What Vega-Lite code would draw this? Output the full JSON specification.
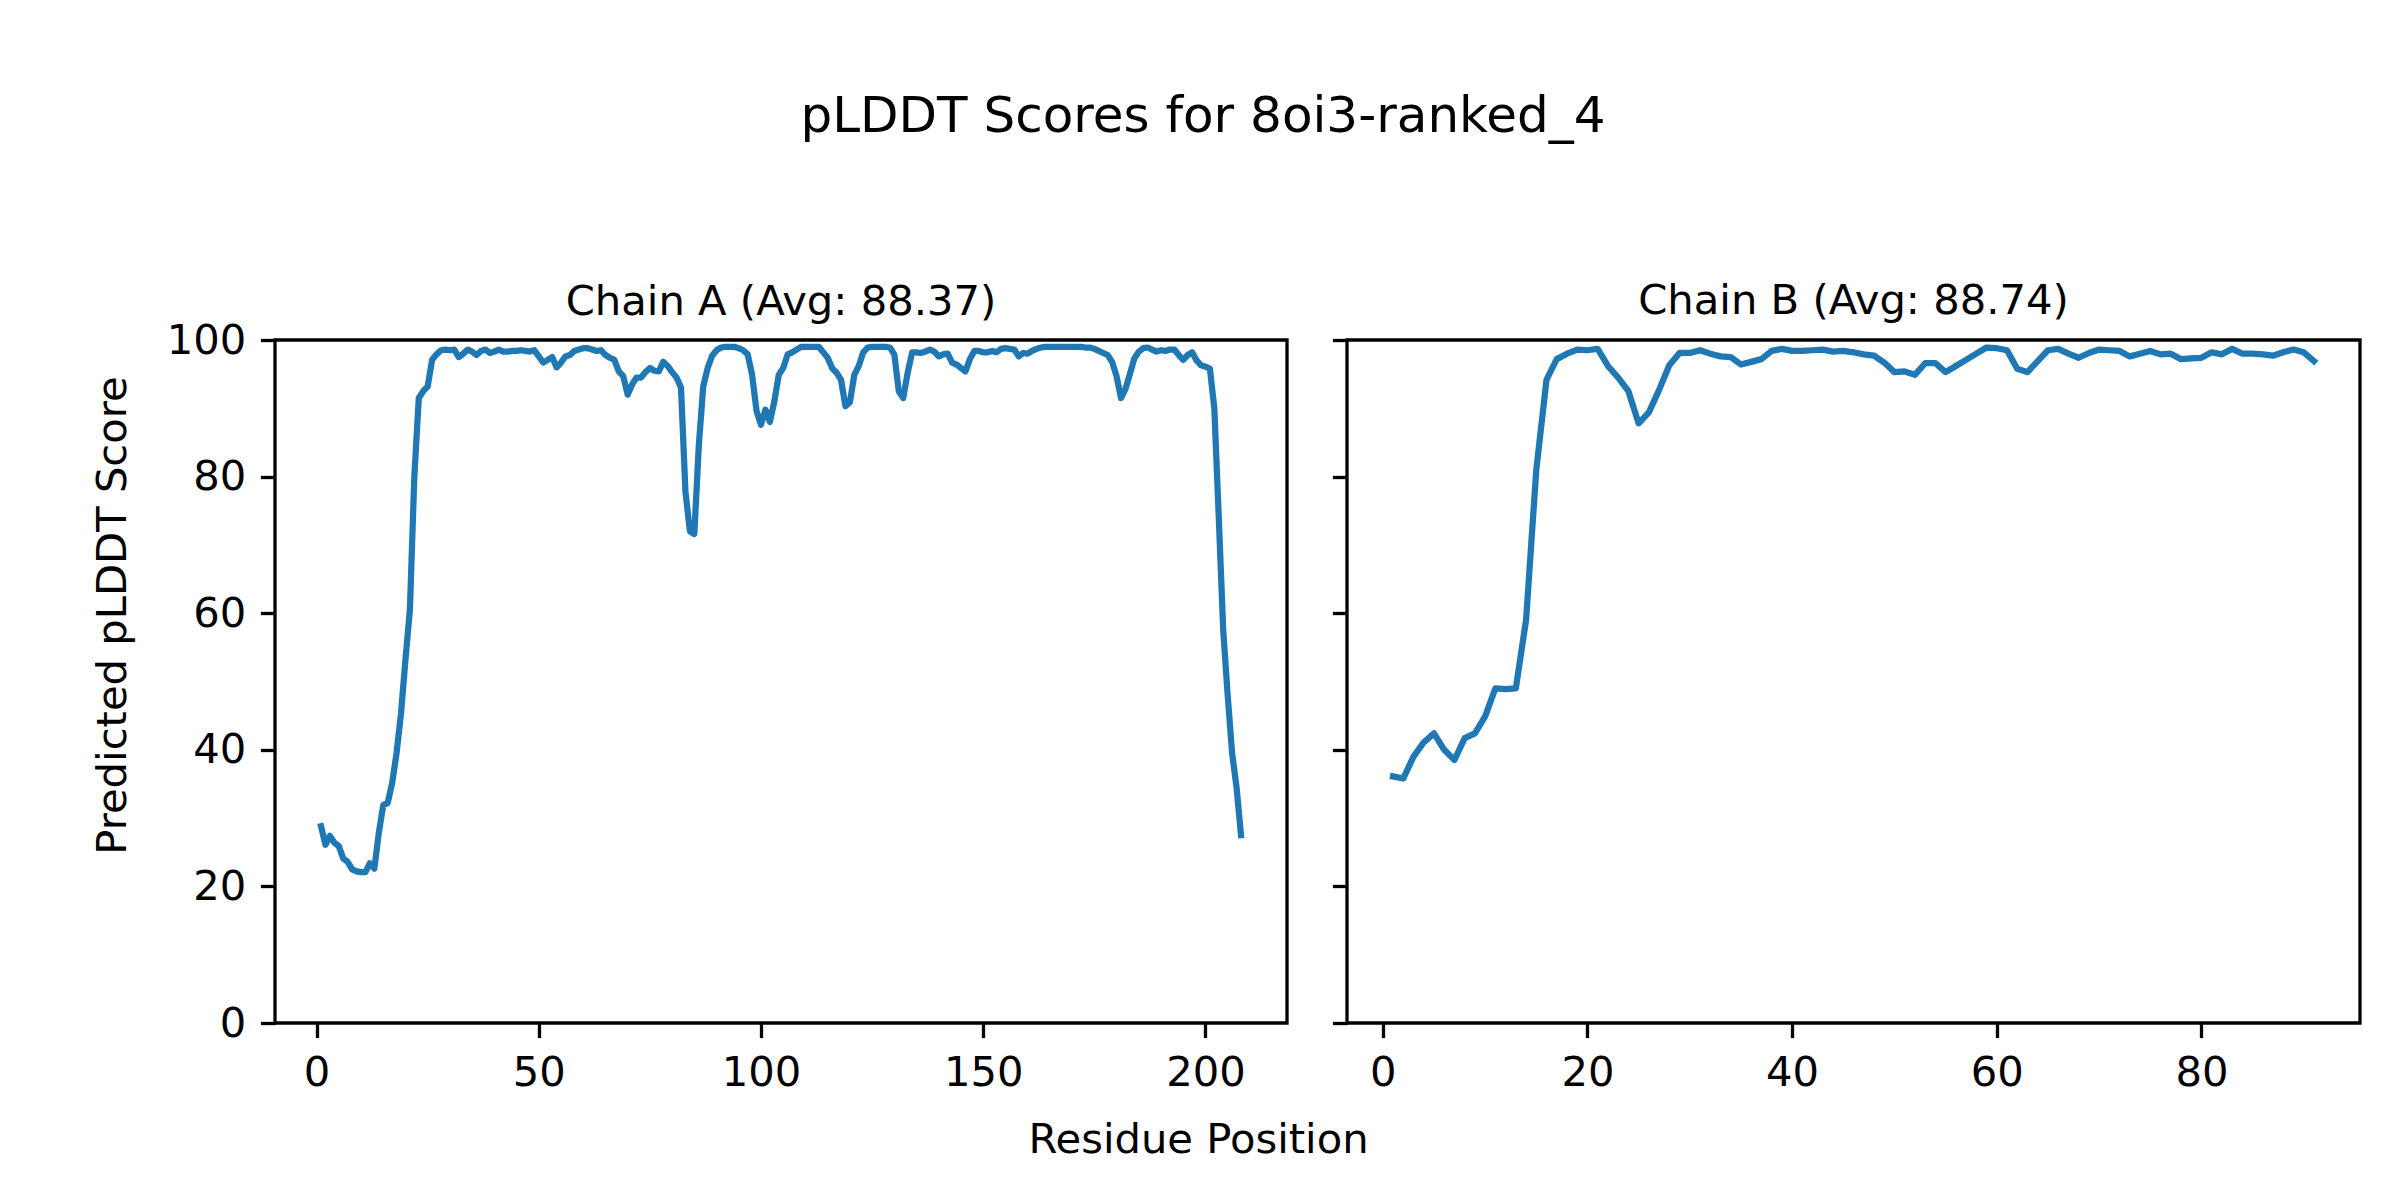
{
  "$schema": "https://vega.github.io/schema/vega-lite/v6.json",
  "background": "white",
  "autosize": {"type": "pad"},
  "padding": {"left": 90, "top": 92, "right": 41, "bottom": 40},
  "bounds": "flush",
  "spacing": 60,
  "title": {"text": "pLDDT Scores for 8oi3-ranked_4", "fontSize": 50, "font": "DejaVu Sans", "fontWeight": "normal", "color": "black", "anchor": "middle", "baseline": "alphabetic", "offset": 97, "dx": -23},
  "config": {
    "font": "DejaVu Sans",
    "view": {"stroke": "black", "strokeWidth": 3.3},
    "axis": {"domain": false, "grid": false, "ticks": true, "tickColor": "black", "tickWidth": 3.3, "tickSize": 14.6, "labelFont": "DejaVu Sans", "labelFontSize": 41.7, "labelColor": "black", "labelPadding": 14.6, "titleFont": "DejaVu Sans", "titleFontSize": 41.7, "titleFontWeight": "normal", "titleColor": "black", "labelFlush": false, "labelOverlap": false},
    "title": {"font": "DejaVu Sans", "fontWeight": "normal", "color": "black"}
  },
  "datasets": {
    "A": [
      {"r":1,"v":28.8},{"r":2,"v":26.1},{"r":3,"v":27.4},{"r":4,"v":26.4},{"r":5,"v":25.9},{"r":6,"v":24.1},{"r":7,"v":23.6},{"r":8,"v":22.5},{"r":9,"v":22.2},{"r":10,"v":22.1},
      {"r":11,"v":22.1},{"r":12,"v":23.4},{"r":13,"v":22.6},{"r":14,"v":27.8},{"r":15,"v":31.9},{"r":16,"v":32.2},{"r":17,"v":35.1},{"r":18,"v":39.5},{"r":19,"v":45.3},{"r":20,"v":53.2},
      {"r":21,"v":60.5},{"r":22,"v":80.0},{"r":23,"v":91.5},{"r":24,"v":92.5},{"r":25,"v":93.2},{"r":26,"v":97.1},{"r":27,"v":97.9},{"r":28,"v":98.5},{"r":29,"v":98.6},{"r":30,"v":98.5},
      {"r":31,"v":98.6},{"r":32,"v":97.5},{"r":33,"v":98.0},{"r":34,"v":98.6},{"r":35,"v":98.3},{"r":36,"v":97.8},{"r":37,"v":98.4},{"r":38,"v":98.6},{"r":39,"v":98.1},{"r":40,"v":98.3},
      {"r":41,"v":98.6},{"r":42,"v":98.3},{"r":43,"v":98.3},{"r":44,"v":98.4},{"r":45,"v":98.4},{"r":46,"v":98.5},{"r":47,"v":98.4},{"r":48,"v":98.3},{"r":49,"v":98.5},{"r":50,"v":97.6},
      {"r":51,"v":96.7},{"r":52,"v":97.1},{"r":53,"v":97.5},{"r":54,"v":96.0},{"r":55,"v":96.7},{"r":56,"v":97.6},{"r":57,"v":97.8},{"r":58,"v":98.4},{"r":59,"v":98.6},{"r":60,"v":98.8},
      {"r":61,"v":98.8},{"r":62,"v":98.6},{"r":63,"v":98.4},{"r":64,"v":98.5},{"r":65,"v":97.8},{"r":66,"v":97.4},{"r":67,"v":97.1},{"r":68,"v":95.4},{"r":69,"v":94.7},{"r":70,"v":92.0},
      {"r":71,"v":93.5},{"r":72,"v":94.5},{"r":73,"v":94.5},{"r":74,"v":95.3},{"r":75,"v":95.9},{"r":76,"v":95.5},{"r":77,"v":95.4},{"r":78,"v":96.8},{"r":79,"v":96.2},{"r":80,"v":95.3},
      {"r":81,"v":94.5},{"r":82,"v":93.0},{"r":83,"v":77.8},{"r":84,"v":72.0},{"r":85,"v":71.6},{"r":86,"v":84.5},{"r":87,"v":93.2},{"r":88,"v":95.9},{"r":89,"v":97.7},{"r":90,"v":98.5},
      {"r":91,"v":98.9},{"r":92,"v":99.0},{"r":93,"v":99.0},{"r":94,"v":99.0},{"r":95,"v":98.8},{"r":96,"v":98.5},{"r":97,"v":97.9},{"r":98,"v":94.9},{"r":99,"v":89.6},{"r":100,"v":87.6},
      {"r":101,"v":89.8},{"r":102,"v":88.0},{"r":103,"v":91.0},{"r":104,"v":94.9},{"r":105,"v":95.9},{"r":106,"v":97.9},{"r":107,"v":98.2},{"r":108,"v":98.6},{"r":109,"v":99.0},{"r":110,"v":99.0},
      {"r":111,"v":99.0},{"r":112,"v":99.0},{"r":113,"v":99.0},{"r":114,"v":98.2},{"r":115,"v":97.4},{"r":116,"v":95.9},{"r":117,"v":95.2},{"r":118,"v":94.2},{"r":119,"v":90.3},{"r":120,"v":90.9},
      {"r":121,"v":94.9},{"r":122,"v":96.2},{"r":123,"v":98.2},{"r":124,"v":98.9},{"r":125,"v":99.0},{"r":126,"v":99.0},{"r":127,"v":99.0},{"r":128,"v":99.0},{"r":129,"v":98.9},{"r":130,"v":97.9},
      {"r":131,"v":92.5},{"r":132,"v":91.5},{"r":133,"v":95.2},{"r":134,"v":98.2},{"r":135,"v":98.2},{"r":136,"v":98.1},{"r":137,"v":98.3},{"r":138,"v":98.6},{"r":139,"v":98.3},{"r":140,"v":97.6},
      {"r":141,"v":97.9},{"r":142,"v":98.0},{"r":143,"v":96.7},{"r":144,"v":96.4},{"r":145,"v":95.9},{"r":146,"v":95.4},{"r":147,"v":97.2},{"r":148,"v":98.4},{"r":149,"v":98.4},{"r":150,"v":98.2},
      {"r":151,"v":98.2},{"r":152,"v":98.4},{"r":153,"v":98.2},{"r":154,"v":98.7},{"r":155,"v":98.8},{"r":156,"v":98.7},{"r":157,"v":98.6},{"r":158,"v":97.6},{"r":159,"v":98.1},{"r":160,"v":98.0},
      {"r":161,"v":98.4},{"r":162,"v":98.7},{"r":163,"v":98.9},{"r":164,"v":99.0},{"r":165,"v":99.0},{"r":166,"v":99.0},{"r":167,"v":99.0},{"r":168,"v":99.0},{"r":169,"v":99.0},{"r":170,"v":99.0},
      {"r":171,"v":99.0},{"r":172,"v":99.0},{"r":173,"v":98.9},{"r":174,"v":98.9},{"r":175,"v":98.7},{"r":176,"v":98.4},{"r":177,"v":98.1},{"r":178,"v":97.8},{"r":179,"v":96.8},{"r":180,"v":94.7},
      {"r":181,"v":91.5},{"r":182,"v":92.8},{"r":183,"v":95.0},{"r":184,"v":97.3},{"r":185,"v":98.3},{"r":186,"v":98.8},{"r":187,"v":98.9},{"r":188,"v":98.6},{"r":189,"v":98.3},{"r":190,"v":98.5},
      {"r":191,"v":98.4},{"r":192,"v":98.6},{"r":193,"v":98.6},{"r":194,"v":97.8},{"r":195,"v":97.1},{"r":196,"v":97.8},{"r":197,"v":98.2},{"r":198,"v":97.0},{"r":199,"v":96.3},{"r":200,"v":96.1},
      {"r":201,"v":95.8},{"r":202,"v":90.0},{"r":203,"v":74.0},{"r":204,"v":57.5},{"r":205,"v":48.0},{"r":206,"v":39.5},{"r":207,"v":34.5},{"r":208,"v":27.5}
    ],
    "B": [
      {"r":1,"v":36.1},{"r":2,"v":35.8},{"r":3,"v":39.0},{"r":4,"v":41.1},{"r":5,"v":42.4},{"r":6,"v":40.0},{"r":7,"v":38.5},{"r":8,"v":41.7},{"r":9,"v":42.4},{"r":10,"v":44.9},
      {"r":11,"v":49.0},{"r":12,"v":48.9},{"r":13,"v":49.0},{"r":14,"v":59.0},{"r":15,"v":81.0},{"r":16,"v":94.2},{"r":17,"v":97.2},{"r":18,"v":98.0},{"r":19,"v":98.6},{"r":20,"v":98.5},
      {"r":21,"v":98.7},{"r":22,"v":96.2},{"r":23,"v":94.5},{"r":24,"v":92.5},{"r":25,"v":87.8},{"r":26,"v":89.4},{"r":27,"v":92.7},{"r":28,"v":96.3},{"r":29,"v":98.1},{"r":30,"v":98.1},
      {"r":31,"v":98.5},{"r":32,"v":98.0},{"r":33,"v":97.6},{"r":34,"v":97.5},{"r":35,"v":96.4},{"r":36,"v":96.8},{"r":37,"v":97.2},{"r":38,"v":98.4},{"r":39,"v":98.7},{"r":40,"v":98.4},
      {"r":41,"v":98.4},{"r":42,"v":98.5},{"r":43,"v":98.6},{"r":44,"v":98.3},{"r":45,"v":98.4},{"r":46,"v":98.2},{"r":47,"v":97.9},{"r":48,"v":97.7},{"r":49,"v":96.7},{"r":50,"v":95.3},
      {"r":51,"v":95.4},{"r":52,"v":94.9},{"r":53,"v":96.6},{"r":54,"v":96.6},{"r":55,"v":95.3},{"r":56,"v":96.2},{"r":57,"v":97.1},{"r":58,"v":98.0},{"r":59,"v":98.9},{"r":60,"v":98.8},
      {"r":61,"v":98.5},{"r":62,"v":95.8},{"r":63,"v":95.3},{"r":64,"v":96.9},{"r":65,"v":98.5},{"r":66,"v":98.7},{"r":67,"v":98.0},{"r":68,"v":97.4},{"r":69,"v":98.1},{"r":70,"v":98.6},
      {"r":71,"v":98.5},{"r":72,"v":98.4},{"r":73,"v":97.6},{"r":74,"v":98.0},{"r":75,"v":98.4},{"r":76,"v":97.9},{"r":77,"v":98.0},{"r":78,"v":97.2},{"r":79,"v":97.3},{"r":80,"v":97.4},
      {"r":81,"v":98.2},{"r":82,"v":97.9},{"r":83,"v":98.7},{"r":84,"v":98.0},{"r":85,"v":98.0},{"r":86,"v":97.9},{"r":87,"v":97.7},{"r":88,"v":98.2},{"r":89,"v":98.6},{"r":90,"v":98.2},
      {"r":91,"v":96.9}
    ]
  },
  "hconcat": [
    {
      "data": {"name": "A"},
      "width": 1012,
      "height": 683,
      "title": {"text": "Chain A (Avg: 88.37)", "fontSize": 41.7, "baseline": "alphabetic", "offset": -37},
      "mark": {"type": "line", "color": "#1f77b4", "strokeWidth": 6.25, "strokeCap": "square", "strokeJoin": "round"},
      "encoding": {
        "x": {"field": "r", "type": "quantitative", "scale": {"domain": [-9.35, 218.35], "nice": false, "zero": false},
              "axis": {"values": [0, 50, 100, 150, 200], "title": "Residue Position", "titleX": 923, "titleY": 129, "titleAlign": "center", "titleBaseline": "alphabetic"}},
        "y": {"field": "v", "type": "quantitative", "scale": {"domain": [0, 100], "nice": false, "zero": false},
              "axis": {"values": [0, 20, 40, 60, 80, 100], "title": "Predicted pLDDT Score", "titleX": -150, "titleY": 275, "titleAlign": "center", "titleBaseline": "alphabetic", "titleAngle": -90}}
      }
    },
    {
      "data": {"name": "B"},
      "width": 1013,
      "height": 683,
      "title": {"text": "Chain B (Avg: 88.74)", "fontSize": 41.7, "baseline": "alphabetic", "offset": -17},
      "mark": {"type": "line", "color": "#1f77b4", "strokeWidth": 6.25, "strokeCap": "square", "strokeJoin": "round"},
      "encoding": {
        "x": {"field": "r", "type": "quantitative", "scale": {"domain": [-3.5, 95.5], "nice": false, "zero": false},
              "axis": {"values": [0, 20, 40, 60, 80], "title": null}},
        "y": {"field": "v", "type": "quantitative", "scale": {"domain": [0, 100], "nice": false, "zero": false},
              "axis": {"values": [0, 20, 40, 60, 80, 100], "title": null, "labels": false}}
      }
    }
  ]
}
